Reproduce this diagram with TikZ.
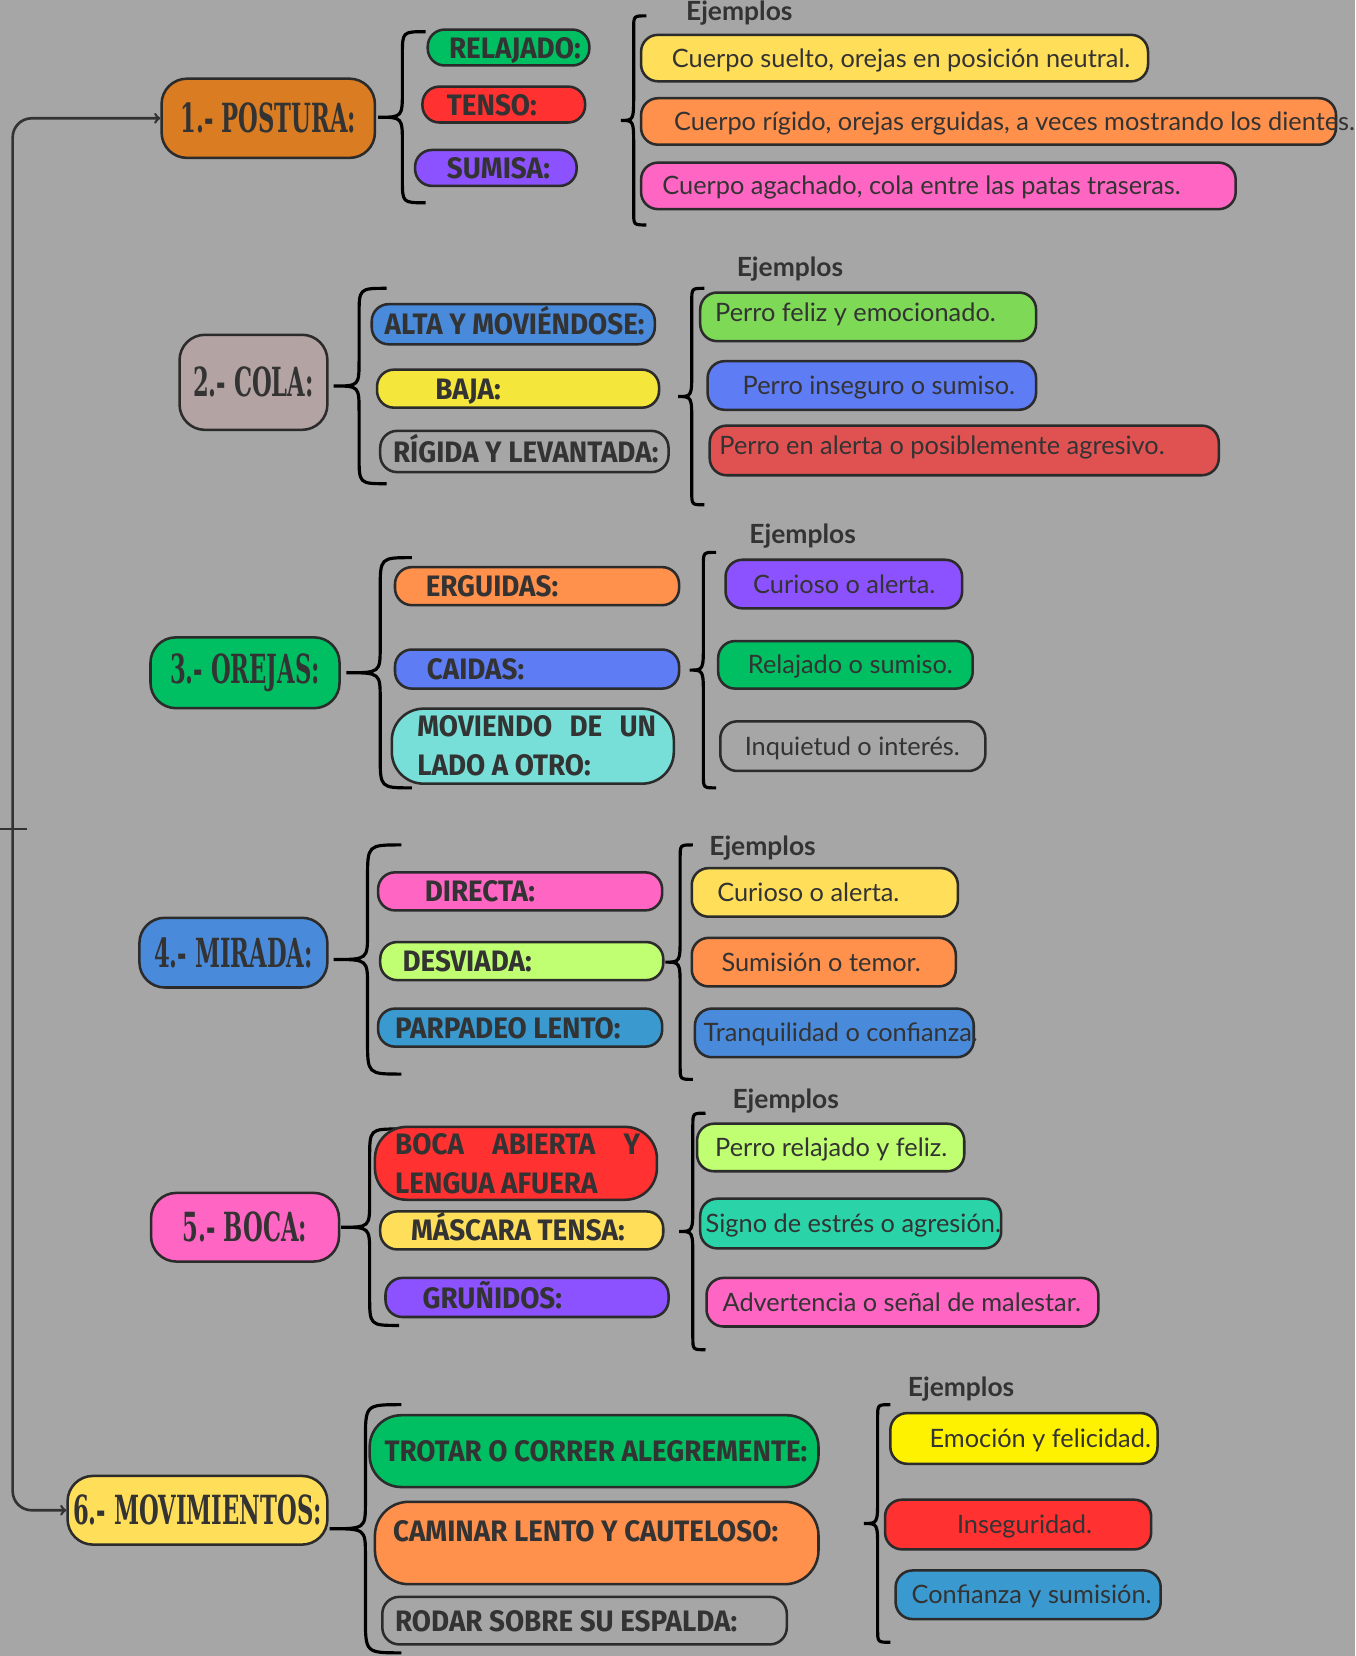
\documentclass[tikz,border=0pt]{standalone}
\usepackage{fontspec}
\usetikzlibrary{arrows}
\newfontfamily\serifT{DejaVu Serif}[FakeStretch=0.565]
\newfontfamily\sansE{Fira Sans}[FakeStretch=0.94]
\newfontfamily\sansL{Lato}
\definecolor{fondo}{HTML}{A6A6A6}
\definecolor{tinta}{HTML}{333333}
\definecolor{borde}{HTML}{2B2B2B}
\definecolor{naranjaT}{HTML}{D97C22}
\definecolor{verde}{HTML}{00BF63}
\definecolor{rojo}{HTML}{FF3131}
\definecolor{morado}{HTML}{8C52FF}
\definecolor{amarillo}{HTML}{FFDE59}
\definecolor{naranja}{HTML}{FF914D}
\definecolor{rosa}{HTML}{FF66C4}
\definecolor{rosagris}{HTML}{B3A3A3}
\definecolor{azul}{HTML}{4A8ADB}
\definecolor{amarilloB}{HTML}{F4E63A}
\definecolor{verdeC}{HTML}{7ED957}
\definecolor{pervinca}{HTML}{5E7CF4}
\definecolor{rojoM}{HTML}{E05252}
\definecolor{cian}{HTML}{77DFD7}
\definecolor{lima}{HTML}{C1FF72}
\definecolor{celeste}{HTML}{3A9AD0}
\definecolor{turquesa}{HTML}{2BD4A8}
\definecolor{amarilloV}{HTML}{FFF200}
\tikzset{
  box/.style={draw=borde, line width=2.4pt, rounded corners=16pt, inner sep=0pt},
  main/.style={box, rounded corners=24pt, text=tinta, font=\serifT\bfseries\fontsize{38}{40}\selectfont},
  sub/.style={font=\sansE\bfseries\fontsize{28}{30}\selectfont, text=tinta, inner sep=0pt, anchor=west, text height=20pt, text depth=0pt},
  subdos/.style={font=\sansE\bfseries\fontsize{28}{37}\selectfont, text=tinta, inner sep=0pt, anchor=west, align=left},
  ex/.style={font=\sansL\fontsize{24}{28}\selectfont, text=tinta, inner sep=0pt, anchor=west, text height=17pt, text depth=0pt},
  tit/.style={font=\sansL\bfseries\fontsize{25}{28}\selectfont, text=tinta},
  brc/.style={line width=3pt, black},
  link/.style={line width=2.5pt, draw=tinta, ->, rounded corners=18pt},
}
\newcommand{\caja}[9][ex]{%
  \node[box, fill=#7, minimum width={#5-#3}, minimum height={#6-#4}] (#2) at ({(#3+#5)/2},{(#4+#6)/2}) {};
  \node[#1] (#2-t) at (#8,{(#4+#6)/2}) {#9};
}
\newcommand{\llave}[5]{%
  \draw[brc] ({#1+#5},#2) .. controls (#1,#2) .. (#1,{#2+#5})
    -- (#1,{(#2+#3)/2-25}) .. controls (#1,{(#2+#3)/2}) .. (#4,{(#2+#3)/2})
    .. controls (#1,{(#2+#3)/2}) .. (#1,{(#2+#3)/2+25})
    -- (#1,{#3-#5}) .. controls (#1,#3) .. ({#1+#5},#3);
}
\begin{document}
\begin{tikzpicture}[x=1pt,y=-1pt]
  \useasboundingbox (0,0) rectangle (1283,1568);
  \fill[fondo] (0,0) rectangle (1283,1568);

  \node[main, fill=naranjaT, minimum width=202pt, minimum height=75pt] (postura) at (254,112) {1.- POSTURA:};
  \node[main, fill=rosagris, minimum width=140pt, minimum height=90pt] (cola) at (240,362) {2.- COLA:};
  \node[main, fill=verde, minimum width=179pt, minimum height=67pt] (orejas) at (232,637) {3.- OREJAS:};
  \node[main, fill=azul, minimum width=178pt, minimum height=66pt] (mirada) at (221,902) {4.- MIRADA:};
  \node[main, fill=rosa, minimum width=178pt, minimum height=65pt] (boca) at (232,1162) {5.- BOCA:};
  \node[main, fill=amarillo, minimum width=246pt, minimum height=65pt] (movi) at (187,1430) {6.- MOVIMIENTOS:};

  \coordinate (rama) at (12,785);
  \draw[link] (rama) |- (postura.west);
  \draw[link] (rama) |- (movi.west);
  \draw[line width=2.5pt, tinta] ([xshift=-12pt]rama) -- ([xshift=14pt]rama);

  % postura
  \llave{381}{30}{192}{358}{22}
  \caja[sub]{relajado}{405}{28}{558}{62}{verde}{425}{RELAJADO:}
  \caja[sub]{tenso}{400}{82}{554}{116}{rojo}{423}{TENSO:}
  \caja[sub]{sumisa}{393}{142}{546}{176}{morado}{423}{SUMISA:}
  \node[tit] (ej1) at (700,12) {Ejemplos};
  \llave{600}{15}{213}{588}{12}
  \caja{e11}{607}{33}{1087}{77}{amarillo}{636}{Cuerpo suelto, orejas en posición neutral.}
  \caja{e12}{607}{93}{1265}{137}{naranja}{638}{Cuerpo rígido, orejas erguidas, a veces mostrando los dientes.}
  \caja{e13}{607}{154}{1170}{198}{rosa}{627}{Cuerpo agachado, cola entre las patas traseras.}

  % cola
  \llave{340}{273}{458}{316}{26}
  \caja[sub]{alta}{352}{288}{620}{326}{azul}{364}{ALTA Y MOVIÉNDOSE:}
  \caja[sub]{baja}{357}{350}{624}{386}{amarilloB}{412}{BAJA:}
  \caja[sub]{rigida}{360}{408}{633}{447}{none}{372}{RÍGIDA Y LEVANTADA:}
  \node[tit] (ej2) at (748,255) {Ejemplos};
  \llave{655}{273}{478}{642}{12}
  \caja[ex, yshift=4pt]{e21}{663}{277}{981}{323}{verdeC}{677}{Perro feliz y emocionado.}
  \caja{e22}{670}{342}{981}{388}{pervinca}{703}{Perro inseguro o sumiso.}
  \caja[ex, yshift=5pt]{e23}{672}{403}{1154}{450}{rojoM}{681}{Perro en alerta o posiblemente agresivo.}

  % orejas
  \llave{360}{528}{746}{328}{30}
  \caja[sub]{erguidas}{374}{537}{643}{573}{naranja}{403}{ERGUIDAS:}
  \caja[sub]{caidas}{374}{615}{643}{652}{pervinca}{404}{CAIDAS:}
  \caja[subdos]{moviendo}{371}{671}{638}{742}{cian, rounded corners=30pt}{395}{\makebox[226pt][s]{MOVIENDO DE UN}\\LADO A OTRO:}
  \node[tit] (ej3) at (760,508) {Ejemplos};
  \llave{666}{523}{746}{653}{12}
  \caja{e31}{687}{530}{911}{576}{morado}{713}{Curioso o alerta.}
  \caja{e32}{680}{607}{921}{652}{verde}{708}{Relajado o sumiso.}
  \caja{e33}{682}{683}{933}{730}{none}{705}{Inquietud o interés.}

  % mirada
  \llave{348}{800}{1017}{316}{32}
  \caja[sub]{directa}{358}{826}{627}{862}{rosa}{402}{DIRECTA:}
  \caja[sub]{desviada}{360}{892}{628}{928}{lima}{381}{DESVIADA:}
  \caja[sub]{parpadeo}{358}{955}{627}{991}{celeste}{374}{PARPADEO LENTO:}
  \node[tit] (ej4) at (722,803) {Ejemplos};
  \llave{644}{800}{1022}{630}{12}
  \caja{e41}{655}{822}{907}{868}{amarillo}{679}{Curioso o alerta.}
  \caja{e42}{655}{888}{905}{934}{naranja}{683}{Sumisión o temor.}
  \caja{e43}{658}{955}{922}{1001}{azul}{666}{Tranquilidad o confianza.}

  % boca
  \llave{350}{1069}{1255}{323}{28}
  \caja[subdos]{abierta}{355}{1067}{622}{1136}{rojo, rounded corners=30pt}{374}{\makebox[232pt][s]{BOCA ABIERTA Y}\\LENGUA AFUERA}
  \caja[sub]{mascara}{360}{1147}{628}{1183}{amarillo}{389}{MÁSCARA TENSA:}
  \caja[sub]{grunidos}{365}{1210}{633}{1247}{morado}{400}{GRUÑIDOS:}
  \node[tit] (ej5) at (744,1043) {Ejemplos};
  \llave{656}{1054}{1278}{643}{12}
  \caja{e51}{660}{1064}{913}{1109}{lima}{677}{Perro relajado y feliz.}
  \caja{e52}{663}{1135}{948}{1182}{turquesa}{668}{Signo de estrés o agresión.}
  \caja{e53}{669}{1210}{1040}{1256}{rosa}{684}{Advertencia o señal de malestar.}

  % movimientos
  \llave{346}{1330}{1565}{312}{34}
  \caja[sub]{trotar}{350}{1340}{775}{1408}{verde, rounded corners=30pt}{364}{TROTAR O CORRER ALEGREMENTE:}
  \caja[sub, yshift=11pt]{caminar}{355}{1422}{775}{1500}{naranja, rounded corners=32pt}{372}{CAMINAR LENTO Y CAUTELOSO:}
  \caja[sub]{rodar}{362}{1512}{745}{1557}{none}{374}{RODAR SOBRE SU ESPALDA:}
  \node[tit] (ej6) at (910,1315) {Ejemplos};
  \llave{831}{1330}{1555}{818}{12}
  \caja{e61}{843}{1338}{1096}{1386}{amarilloV}{880}{Emoción y felicidad.}
  \caja{e62}{838}{1420}{1090}{1467}{rojo}{906}{Inseguridad.}
  \caja{e63}{848}{1487}{1099}{1533}{celeste}{863}{Confianza y sumisión.}
\end{tikzpicture}
\end{document}
